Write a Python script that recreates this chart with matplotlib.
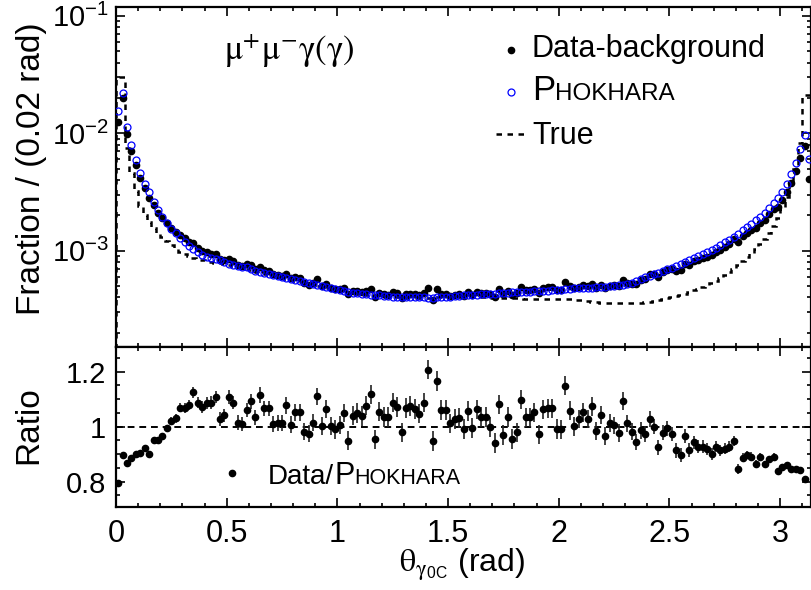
import numpy as np
import matplotlib
matplotlib.use("Agg")
import matplotlib.pyplot as plt
from matplotlib.ticker import MultipleLocator, FuncFormatter, LogLocator, NullFormatter
from matplotlib.lines import Line2D

plt.rcParams["font.family"] = ["Liberation Sans", "DejaVu Sans"]
plt.rcParams["mathtext.fontset"] = "stix"

# ── data: 0.02 rad bins over [0, pi] ─────────────────────────
bin_edges = np.linspace(0.0, 3.14, 158)
theta = 0.5 * (bin_edges[:-1] + bin_edges[1:])

# PHOKHARA fraction per bin
phokhara = [
    0.0156, 0.0222, 0.0114, 0.0080, 0.00593, 0.00462, 0.00372, 0.00314, 0.00260, 0.00222,
    0.00195, 0.00173, 0.00154, 0.00141, 0.00128, 0.00119, 0.00110, 0.00103, 0.000968, 0.000919,
    0.000890, 0.000867, 0.000850, 0.000828, 0.000801, 0.000770, 0.000755, 0.000746, 0.000731, 0.000721,
    0.000694, 0.000672, 0.000654, 0.000641, 0.000629, 0.000621, 0.000613, 0.000601, 0.000589, 0.000578,
    0.000563, 0.000556, 0.000541, 0.000527, 0.000520, 0.000514, 0.000504, 0.000491, 0.000481, 0.000475,
    0.000466, 0.000457, 0.000448, 0.000439, 0.000433, 0.000428, 0.000425, 0.000422, 0.000419, 0.000417,
    0.000411, 0.000408, 0.000407, 0.000406, 0.000405, 0.000402, 0.000401, 0.000401, 0.000400, 0.000400,
    0.000397, 0.000399, 0.000403, 0.000405, 0.000404, 0.000406, 0.000409, 0.000414, 0.000416, 0.000419,
    0.000419, 0.000422, 0.000425, 0.000425, 0.000428, 0.000430, 0.000433, 0.000439, 0.000439, 0.000442,
    0.000442, 0.000445, 0.000448, 0.000448, 0.000451, 0.000451, 0.000454, 0.000457, 0.000460, 0.000463,
    0.000466, 0.000472, 0.000475, 0.000478, 0.000481, 0.000481, 0.000484, 0.000484, 0.000487, 0.000491,
    0.000494, 0.000497, 0.000504, 0.000507, 0.000514, 0.000520, 0.000534, 0.000552, 0.000570, 0.000593,
    0.000613, 0.000633, 0.000650, 0.000672, 0.000694, 0.000712, 0.000741, 0.000770, 0.000796, 0.000828,
    0.000861, 0.000895, 0.000931, 0.000968, 0.001014, 0.001061, 0.001118, 0.001178, 0.001241, 0.001317,
    0.001397, 0.001491, 0.001592, 0.001699, 0.001814, 0.001950, 0.002110, 0.002309, 0.002530, 0.002831,
    0.003184, 0.00370, 0.00450, 0.00560, 0.00730, 0.00960, 0.00600,
]

# Data / PHOKHARA ratio per bin
ratio = [
    0.796, 0.896, 0.868, 0.885, 0.899, 0.904, 0.922, 0.902, 0.950, 0.950,
    0.965, 0.994, 1.022, 1.030, 1.069, 1.069, 1.079, 1.126, 1.088, 1.073,
    1.087, 1.088, 1.108, 1.028, 1.041, 1.109, 1.088, 1.015, 1.010, 1.062,
    1.093, 1.035, 1.116, 1.067, 1.067, 1.011, 1.015, 1.015, 1.078, 1.008,
    1.052, 1.053, 0.981, 0.975, 1.015, 1.110, 1.002, 1.063, 1.002, 0.990,
    1.006, 1.050, 0.949, 1.040, 1.050, 1.039, 1.076, 1.118, 0.954, 1.055,
    1.034, 1.034, 1.088, 1.072, 0.979, 1.068, 1.074, 1.064, 1.048, 1.088,
    1.208, 0.948, 1.166, 1.062, 1.062, 1.012, 1.027, 1.033, 0.992, 1.056,
    0.994, 1.063, 1.034, 1.034, 0.999, 0.942, 1.081, 0.971, 1.035, 0.955,
    0.979, 1.098, 1.034, 1.034, 1.053, 0.973, 1.063, 1.067, 1.067, 0.992,
    0.990, 1.149, 1.058, 1.002, 1.028, 1.052, 1.028, 1.074, 0.983, 1.042,
    0.967, 1.012, 1.005, 0.978, 1.093, 1.013, 0.981, 0.945, 0.987, 0.972,
    1.027, 1.000, 0.925, 0.978, 0.995, 0.973, 0.914, 0.898, 0.966, 0.915,
    0.943, 0.927, 0.927, 0.919, 0.901, 0.928, 0.915, 0.919, 0.928, 0.948,
    0.846, 0.887, 0.897, 0.891, 0.864, 0.891, 0.864, 0.882, 0.891, 0.840,
    0.855, 0.859, 0.846, 0.845, 0.844, 0.811, 0.680,
]

ratio_err = [
    0.006, 0.006, 0.006, 0.007, 0.007, 0.008, 0.008, 0.009, 0.010, 0.011,
    0.012, 0.013, 0.014, 0.015, 0.017, 0.018, 0.019, 0.020, 0.021, 0.022,
    0.022, 0.023, 0.023, 0.024, 0.024, 0.025, 0.025, 0.026, 0.026, 0.026,
    0.027, 0.027, 0.028, 0.028, 0.028, 0.029, 0.029, 0.029, 0.030, 0.030,
    0.030, 0.031, 0.031, 0.031, 0.032, 0.032, 0.032, 0.033, 0.033, 0.033,
    0.034, 0.034, 0.034, 0.034, 0.035, 0.035, 0.035, 0.035, 0.035, 0.035,
    0.036, 0.036, 0.036, 0.036, 0.036, 0.036, 0.036, 0.036, 0.036, 0.036,
    0.036, 0.036, 0.036, 0.036, 0.036, 0.036, 0.036, 0.036, 0.036, 0.036,
    0.036, 0.036, 0.036, 0.036, 0.036, 0.036, 0.036, 0.036, 0.036, 0.036,
    0.035, 0.035, 0.035, 0.035, 0.035, 0.035, 0.035, 0.035, 0.035, 0.035,
    0.035, 0.035, 0.035, 0.034, 0.034, 0.034, 0.034, 0.034, 0.033, 0.033,
    0.033, 0.033, 0.032, 0.032, 0.032, 0.031, 0.031, 0.030, 0.030, 0.029,
    0.029, 0.028, 0.028, 0.027, 0.027, 0.026, 0.026, 0.025, 0.025, 0.024,
    0.024, 0.023, 0.023, 0.022, 0.022, 0.021, 0.020, 0.020, 0.019, 0.018,
    0.018, 0.017, 0.016, 0.016, 0.015, 0.014, 0.013, 0.013, 0.012, 0.011,
    0.010, 0.009, 0.008, 0.008, 0.007, 0.006, 0.006,
]

# true (generated) distribution per bin
true_frac = [
    0.030, 0.030, 0.0075, 0.0046, 0.0032, 0.0024, 0.0020, 0.00175, 0.00157, 0.00142,
    0.00130, 0.00120, 0.00111, 0.00104, 0.00098, 0.00094, 0.00090, 0.00087, 0.00085, 0.00083,
    0.00081, 0.00080, 0.00079, 0.00078, 0.00077, 0.000755, 0.000740, 0.000730, 0.000716, 0.000705,
    0.000680, 0.000660, 0.000643, 0.000630, 0.000618, 0.000610, 0.000600, 0.000590, 0.000578, 0.000567,
    0.000553, 0.000545, 0.000532, 0.000518, 0.000511, 0.000505, 0.000495, 0.000483, 0.000473, 0.000467,
    0.000458, 0.000450, 0.000441, 0.000433, 0.000427, 0.000422, 0.000419, 0.000416, 0.000413, 0.000411,
    0.000406, 0.000403, 0.000402, 0.000401, 0.000400, 0.000398, 0.000397, 0.000397, 0.000396, 0.000396,
    0.000394, 0.000396, 0.000400, 0.000401, 0.000401, 0.000402, 0.000402, 0.000403, 0.000403, 0.000403,
    0.000402, 0.000402, 0.000401, 0.000400, 0.000399, 0.000398, 0.000397, 0.000396, 0.000395, 0.000394,
    0.000393, 0.000392, 0.000391, 0.000391, 0.000390, 0.000390, 0.000390, 0.000390, 0.000389, 0.000389,
    0.000388, 0.000387, 0.000386, 0.000384, 0.000381, 0.000377, 0.000372, 0.000367, 0.000363, 0.000360,
    0.000358, 0.000357, 0.000357, 0.000356, 0.000356, 0.000357, 0.000358, 0.000360, 0.000362, 0.000365,
    0.000369, 0.000374, 0.000380, 0.000386, 0.000393, 0.000401, 0.000410, 0.000420, 0.000432, 0.000446,
    0.000460, 0.000476, 0.000494, 0.000512, 0.000532, 0.000556, 0.000585, 0.000620, 0.000660, 0.000705,
    0.000755, 0.000815, 0.000880, 0.000955, 0.00104, 0.00114, 0.00126, 0.00142, 0.00162, 0.00190,
    0.00228, 0.00285, 0.00370, 0.00500, 0.00820, 0.0210, 0.0210,
]

phokhara = np.array(phokhara)
ratio = np.array(ratio)
data_bkg = phokhara * ratio

# ── figure geometry (pixels of an 811x590 canvas) ─────────────
W, H = 811, 590
fig = plt.figure(figsize=(W / 100, H / 100), dpi=100)


def fx(x):
    return x / W


def fy(y):
    return 1 - y / H


x_left, x_right = 116, 811.5
ax1 = fig.add_axes([fx(x_left), fy(347), (x_right - x_left) / W, (347 - 7) / H])
ax2 = fig.add_axes([fx(x_left), fy(507), (x_right - x_left) / W, (507 - 347) / H])

# ── upper panel ───────────────────────────────────────────────
ax1.stairs(true_frac, bin_edges, baseline=1e-6, color="black", lw=1.8,
           linestyle=(0, (2.2, 2.2)), zorder=2)
ax1.plot(theta, data_bkg, "o", color="black", ms=4.5, zorder=3)
ax1.plot(theta, phokhara, "o", mfc="none", mec="#0000ff", mew=0.9, ms=5.0, zorder=4)

ax1.set_yscale("log")
ax1.set_xlim(0, np.pi)
ax1.set_ylim(1.514e-4, 0.119)

# ── lower panel ───────────────────────────────────────────────
ax2.axhline(1.0, color="black", lw=1.4, linestyle=(0, (3.5, 2.5)), zorder=1)
ax2.errorbar(theta, ratio, yerr=ratio_err, fmt="o", color="black", ms=4.5,
             ecolor="#222222", elinewidth=1.2, capsize=0, zorder=3)
ax2.set_xlim(0, np.pi)
ax2.set_ylim(0.708, 1.29)

# ── axes styling ──────────────────────────────────────────────
fmt_g = FuncFormatter(lambda v, p: f"{v:g}")
for ax in (ax1, ax2):
    for s in ax.spines.values():
        s.set_linewidth(1.6)
    ax.tick_params(which="both", direction="in", top=True, right=True, width=1.2)
    ax.tick_params(which="major", length=6.5)
    ax.tick_params(which="minor", length=3.2)
    ax.xaxis.set_major_locator(MultipleLocator(0.5))
    ax.xaxis.set_minor_locator(MultipleLocator(0.1))

ax1.tick_params(axis="x", labelbottom=False)
ax1.yaxis.set_major_locator(LogLocator(base=10, numticks=10))
ax1.yaxis.set_minor_locator(LogLocator(base=10, subs=np.arange(2, 10), numticks=20))
ax1.yaxis.set_minor_formatter(NullFormatter())
ax1.tick_params(axis="y", labelsize=21, pad=5)

ax2.xaxis.set_major_formatter(fmt_g)
ax2.yaxis.set_major_locator(MultipleLocator(0.2))
ax2.yaxis.set_minor_locator(MultipleLocator(0.05))
ax2.yaxis.set_major_formatter(fmt_g)
ax2.tick_params(axis="x", labelsize=22, pad=9)
ax2.tick_params(axis="y", labelsize=21, pad=7)

# ── axis titles ───────────────────────────────────────────────
fig.text(fx(32), fy(169), "Fraction / (0.02 rad)", rotation=90,
         ha="center", va="center", fontsize=24)
fig.text(fx(29), fy(425), "Ratio", rotation=90, ha="center", va="center", fontsize=24)
fig.text(fx(462), fy(572), r"$\mathrm{\theta}_{\mathrm{\gamma}_{\mathdefault{0C}}}$ (rad)",
         ha="center", va="baseline", fontsize=23)

# ── process label ─────────────────────────────────────────────
fig.text(fx(224), fy(60), r"$\mathrm{\mu^{+}\mu^{-}\gamma(\gamma)}$", fontsize=25,
         va="baseline")

# ── upper legend ──────────────────────────────────────────────
fig.add_artist(Line2D([fx(511)], [fy(50)], marker="o", color="black", ms=4.5,
                      transform=fig.transFigure))
fig.text(fx(532), fy(57.5), "Data-background", fontsize=22, va="baseline")

fig.add_artist(Line2D([fx(511)], [fy(92)], marker="o", mfc="none", mec="#0000ff",
                      mew=0.9, ms=5.0, transform=fig.transFigure))
p1 = fig.text(fx(532), fy(100), "P", fontsize=25, va="baseline")
fig.add_artist(plt.Annotation("HOKHARA", xy=(1.0, fy(100)),
                              xycoords=(p1, "figure fraction"),
                              fontsize=17.5, va="baseline", ha="left"))

fig.add_artist(Line2D([fx(496), fx(527)], [fy(133.5), fy(133.5)], color="black",
                      lw=1.8, linestyle=(0, (2.2, 2.2)), transform=fig.transFigure))
fig.text(fx(532), fy(143.5), "True", fontsize=22, va="baseline")

# ── lower legend ──────────────────────────────────────────────
fig.add_artist(Line2D([fx(232)], [fy(473)], marker="o", color="black", ms=4.5,
                      transform=fig.transFigure))
d1 = fig.text(fx(268), fy(484), "Data/", fontsize=20, va="baseline")
d2 = plt.Annotation("P", xy=(1.0, fy(484)), xycoords=(d1, "figure fraction"),
                    fontsize=22, va="baseline", ha="left")
fig.add_artist(d2)
d3 = plt.Annotation("HOKHARA", xy=(1.0, fy(484)), xycoords=(d2, "figure fraction"),
                    fontsize=15.5, va="baseline", ha="left")
fig.add_artist(d3)

fig.savefig("out.png", dpi=100)
